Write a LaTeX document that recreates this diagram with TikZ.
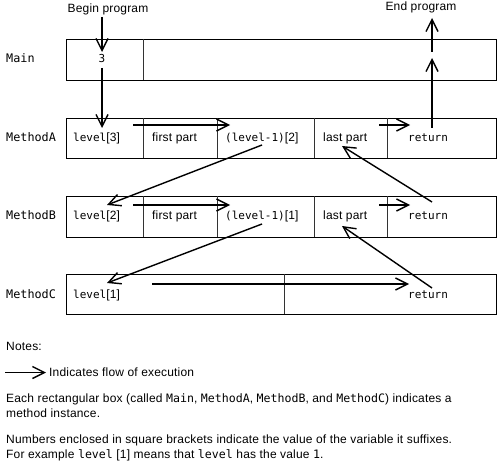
\documentclass[tikz,border=0pt]{standalone}
\usepackage{fontspec}
\setmainfont{Liberation Sans}[LetterSpace=1.5]
\setmonofont{DejaVu Sans Mono}
\usetikzlibrary{arrows.meta}
\begin{document}
\begin{tikzpicture}[x=1pt,y=-1pt,
  box/.style={draw, line width=1.4pt, inner sep=0pt, anchor=north west},
  divl/.style={draw=black!80, line width=1pt},
  flow/.style={line width=1.4pt, -{Straight Barb[length=12pt,width=12pt,line width=1.4pt]}},
  txt/.style={font=\fontsize{12}{14}\selectfont, inner sep=0pt, anchor=base west},
  mono/.style={font=\fontsize{11}{14}\selectfont\ttfamily},
  lbl/.style={font=\fontsize{11.8}{14}\selectfont\ttfamily, inner sep=0pt, anchor=base west},
  note/.style={font=\fontsize{12}{14}\selectfont, inner sep=0pt, anchor=base west},
]
\newcommand{\mtt}[1]{{\fontsize{11}{14}\selectfont\ttfamily #1}}
\newcommand{\ntt}[1]{{\fontsize{11.6}{14}\selectfont\ttfamily #1}}
\useasboundingbox (0,0) rectangle (500,465);
% boxes
\node[box, minimum width=430pt, minimum height=41pt] (mainbox) at (66,39) {};
\node[box, minimum width=430pt, minimum height=40pt] (abox) at (66,118) {};
\node[box, minimum width=430pt, minimum height=41pt] (bbox) at (66,196) {};
\node[box, minimum width=430pt, minimum height=40pt] (cbox) at (66,274) {};
% dividers
\draw[divl] (143,39) -- (143,80);
\foreach \x in {143,217,314,387} {
  \draw[divl] (\x,118) -- (\x,158);
  \draw[divl] (\x,196) -- (\x,237);
}
\draw[divl] (284,274) -- (284,314);
% left labels
\node[lbl] (lmain) at (6,63) {Main};
\node[lbl] (la) at (6,141.5) {MethodA};
\node[lbl] (lb) at (6,219.5) {MethodB};
\node[lbl] (lc) at (6,298) {MethodC};
% top texts
\node[txt, anchor=base] (begin) at (108,12.5) {Begin program};
\node[txt, anchor=base] (end) at (421,11) {End program};
% main box text
\node[txt, anchor=base] (three) at (102,63) {\mtt{3}};
% A row
\node[txt] (a1) at (73,141.5) {\mtt{level}[3]};
\node[txt] (a2) at (152,141.5) {first part};
\node[txt] (a3) at (225,141.5) {\mtt{(level-1)}[2]};
\node[txt] (a4) at (323,141.5) {last part};
\node[txt] (a5) at (408,141.5) {\mtt{return}};
% B row
\node[txt] (b1) at (73,219.5) {\mtt{level}[2]};
\node[txt] (b2) at (152,219.5) {first part};
\node[txt] (b3) at (225,219.5) {\mtt{(level-1)}[1]};
\node[txt] (b4) at (323,219.5) {last part};
\node[txt] (b5) at (408,219.5) {\mtt{return}};
% C row
\node[txt] (c1) at (73,298) {\mtt{level}[1]};
\node[txt] (c5) at (408,298) {\mtt{return}};
% arrow end points
\coordinate (p1s) at (102,17);  \coordinate (p1e) at (102,52);
\coordinate (p2s) at (102,68);  \coordinate (p2e) at (102,128);
\coordinate (p3s) at (133,125); \coordinate (p3e) at (230,125);
\coordinate (p4s) at (379,125); \coordinate (p4e) at (410,125);
\coordinate (p5s) at (432,128); \coordinate (p5e) at (432,58);
\coordinate (p6s) at (432,52);  \coordinate (p6e) at (432,18);
\coordinate (p7s) at (262,145); \coordinate (p7e) at (107,205);
\coordinate (p8s) at (133,205); \coordinate (p8e) at (230,205);
\coordinate (p9s) at (379,205); \coordinate (p9e) at (410,205);
\coordinate (p10s) at (432,202); \coordinate (p10e) at (342,146);
\coordinate (p11s) at (262,224); \coordinate (p11e) at (107,283);
\coordinate (p12s) at (152,284); \coordinate (p12e) at (409,284);
\coordinate (p13s) at (432,288); \coordinate (p13e) at (342,226);
\foreach \i in {1,...,13} { \draw[flow] (p\i s) -- (p\i e); }
% notes
\node[note] (notes) at (6,350.5) {Notes:};
\coordinate (lgs) at (5,372.5); \coordinate (lge) at (46,372.5);
\draw[flow] (lgs) -- (lge);
\node[note] (lgt) at (49,376.5) {Indicates flow of execution};
\node[note] (n1) at (6,402.5) {Each rectangular box (called \ntt{Main}, \ntt{MethodA}, \ntt{MethodB}, and \ntt{MethodC}) indicates a};
\node[note] (n2) at (6,417.5) {method instance.};
\node[note] (n3) at (6,443.3) {Numbers enclosed in square brackets indicate the value of the variable it suffixes.};
\node[note] (n4) at (6,458.3) {For example \ntt{level} [1] means that \ntt{level} has the value \ntt{1}.};
\end{tikzpicture}
\end{document}
